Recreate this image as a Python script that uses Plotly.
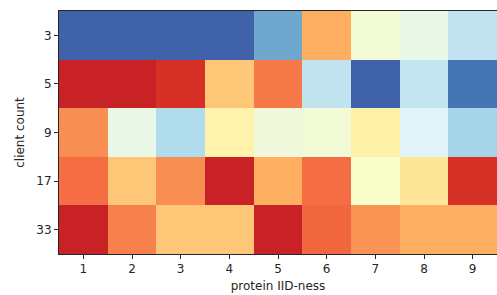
import plotly.graph_objects as go

iid_levels = [1, 2, 3, 4, 5, 6, 7, 8, 9]
client_counts = ["3", "5", "9", "17", "33"]

row_3 = [0.07, 0.07, 0.07, 0.07, 0.19, 0.70, 0.46, 0.43, 0.34]
row_5 = [0.93, 0.93, 0.90, 0.65, 0.78, 0.34, 0.07, 0.345, 0.10]
row_9 = [0.75, 0.43, 0.31, 0.54, 0.45, 0.46, 0.55, 0.40, 0.29]
row_17 = [0.80, 0.65, 0.75, 0.93, 0.70, 0.80, 0.48, 0.58, 0.90]
row_33 = [0.93, 0.77, 0.65, 0.65, 0.93, 0.81, 0.74, 0.70, 0.70]

z = [row_3, row_5, row_9, row_17, row_33]

rdylbu_r = [
    "#313695", "#4575b4", "#74add1", "#abd9e9", "#e0f3f8", "#ffffbf",
    "#fee090", "#fdae61", "#f46d43", "#d73027", "#a50026",
]
colorscale = [[i / 10, c] for i, c in enumerate(rdylbu_r)]

fig = go.Figure(go.Heatmap(
    x=iid_levels, y=client_counts, z=z,
    colorscale=colorscale, zmin=0, zmax=1, showscale=False,
    hoverinfo="skip",
))

font = dict(family="DejaVu Sans", size=12, color="#262626")
fig.update_layout(
    width=497, height=295,
    margin=dict(l=59, r=0, t=11, b=41, autoexpand=False),
    paper_bgcolor="white", plot_bgcolor="white",
    font=font,
)
fig.update_xaxes(
    range=[0.5, 9.5], tickmode="array", tickvals=iid_levels,
    ticks="outside", ticklen=4, tickcolor="#262626",
    showline=True, linecolor="#262626", linewidth=1, mirror=True,
    showgrid=False, zeroline=False, automargin=False,
    title=dict(text="protein IID-ness", standoff=6, font=font),
)
fig.update_yaxes(
    autorange="reversed", type="category",
    ticks="outside", ticklen=4, tickcolor="#262626",
    showline=True, linecolor="#262626", linewidth=1, mirror=False,
    showgrid=False, zeroline=False, automargin=False,
    title=dict(text="client count", standoff=9, font=font),
)

fig.write_html(
    "out.html",
    config={"displayModeBar": False},
    post_script="document.body.style.margin='0';document.body.style.overflow='hidden';",
)
